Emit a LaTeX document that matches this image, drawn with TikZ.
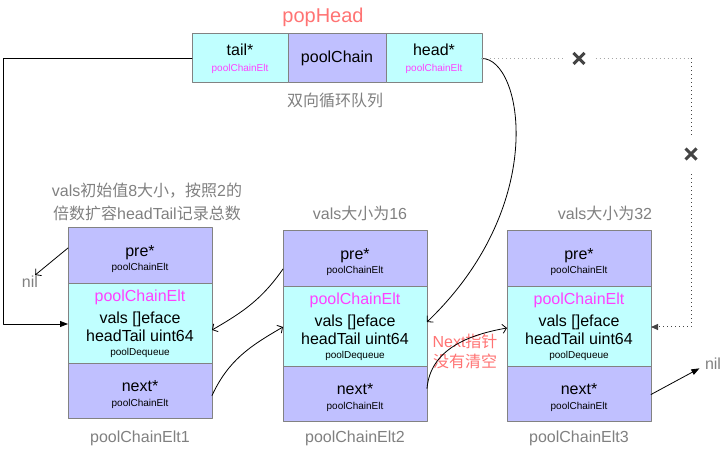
\documentclass[tikz,border=0pt]{standalone}
\usepackage{fontspec}
\setmainfont{Liberation Sans}
\newfontfamily\zhfont{Noto Sans CJK SC}
\newcommand{\zh}[1]{{\zhfont #1}}
\newcommand{\bigsz}{\fontsize{16}{18}\selectfont}
\newcommand{\smallsz}{\fontsize{10}{12}\selectfont}
\usetikzlibrary{arrows.meta,positioning,shapes.misc}
\definecolor{ptrfill}{HTML}{C0C0FF}
\definecolor{datafill}{HTML}{C0FFFF}
\definecolor{edgegray}{HTML}{828282}
\definecolor{eltpink}{HTML}{FF40FF}
\definecolor{warnred}{HTML}{FF7373}
\definecolor{notegray}{HTML}{808080}
\definecolor{markgray}{HTML}{444444}
\tikzset{
  cell/.style={draw=edgegray,line width=1pt,align=center,inner sep=0pt,outer sep=0pt,font=\bigsz},
  ptrcell/.style={cell,fill=ptrfill,minimum width=144pt,minimum height=56pt},
  datacell/.style={cell,fill=datafill,minimum width=144pt,minimum height=80pt},
  note/.style={text=notegray,font=\bigsz,align=center,inner sep=1pt},
  link/.style={line width=.8pt,-{Straight Barb[length=4pt,width=9pt]}},
  solidlink/.style={line width=.8pt,-{Triangle[length=8pt,width=6pt]}},
  dotline/.style={draw=markgray,line width=1pt,dash pattern=on 1pt off 3pt,line cap=butt},
  xmark/.style={cross out,draw=markgray,line width=3pt,line cap=butt,minimum size=11pt,inner sep=0pt,outer sep=0pt},
}

\begin{document}
\begin{tikzpicture}[x=1pt,y=1pt,line cap=round,line join=round]
\path[use as bounding box] (0,0) rectangle (728,454);
\node[cell,fill=datafill,minimum width=96pt,minimum height=49pt] (tail) at (240,395.5) {tail*\\[-2pt]{\smallsz\color{eltpink}poolChainElt}};
\node[cell,fill=ptrfill,minimum width=98pt,minimum height=49pt,right=0pt of tail] (chain) {poolChain};
\node[cell,fill=datafill,minimum width=96pt,minimum height=49pt,right=0pt of chain] (head) {head*\\[-2pt]{\smallsz\color{eltpink}poolChainElt}};
\node[text=warnred,font=\fontsize{20}{24}\selectfont] (pophead) at (323,437) {popHead};
\node[note] (queue) at (335,354) {\zh{双向循环队列}};

\node[ptrcell] (pre1) at (140,198) {\rule{0pt}{18pt}pre*\\[-4pt]{\smallsz poolChainElt}};
\node[datacell,below=0pt of pre1] (mid1) {{\color{eltpink}poolChainElt}\\[4pt]vals []eface\\headTail uint64\\[-4pt]{\smallsz poolDequeue}};
\node[ptrcell,minimum height=55pt,below=0pt of mid1] (next1) {\rule{0pt}{18pt}next*\\[-3pt]{\smallsz poolChainElt}};

\node[ptrcell] (pre2) at (355,195) {\rule{0pt}{18pt}pre*\\[-4pt]{\smallsz poolChainElt}};
\node[datacell,below=0pt of pre2] (mid2) {{\color{eltpink}poolChainElt}\\[4pt]vals []eface\\headTail uint64\\[-4pt]{\smallsz poolDequeue}};
\node[ptrcell,minimum height=55pt,below=0pt of mid2] (next2) {\rule{0pt}{18pt}next*\\[-3pt]{\smallsz poolChainElt}};

\node[ptrcell] (pre3) at (579,195) {\rule{0pt}{18pt}pre*\\[-4pt]{\smallsz poolChainElt}};
\node[datacell,below=0pt of pre3] (mid3) {{\color{eltpink}poolChainElt}\\[4pt]vals []eface\\headTail uint64\\[-4pt]{\smallsz poolDequeue}};
\node[ptrcell,minimum height=55pt,below=0pt of mid3] (next3) {\rule{0pt}{18pt}next*\\[-3pt]{\smallsz poolChainElt}};

\node[note] (name1) at (140,16) {poolChainElt1};
\node[note] (name2) at (355,16) {poolChainElt2};
\node[note] (name3) at (579,16) {poolChainElt3};
\node[note] (size1) at (147,252.5) {vals\zh{初始值}8\zh{大小，按照}2\zh{的}\\[5pt]\zh{倍数扩容}headTail\zh{记录总数}};
\node[note] (size2) at (360,241) {vals\zh{大小为}16};
\node[note] (size3) at (605,241) {vals\zh{大小为}32};
\node[note] (nil1) at (30,172) {nil};
\node[note] (nil3) at (713,90) {nil};
\node[text=warnred,font=\bigsz,align=center] (stale) at (465,103) {Next\zh{指针}\\[2pt]\zh{没有清空}};

\node[xmark] (cut1) at (579,395.5) {};
\node[xmark] (cut2) at (691,300) {};
\coordinate (back) at (3,395.5);
\coordinate (corner) at (691,395.5);

\draw[solidlink] (tail.west) -- (back) |- (mid1.west);
\draw[link] ([yshift=8pt]pre1.west) -- ([xshift=-4pt]nil1.north east);
\draw[link] ([yshift=-10pt]pre2.west) to[out=-125,in=30] ([yshift=-6pt]mid1.east);
\draw[link] ([yshift=-4pt]next1.east) to[out=65,in=-150] (mid2.west);
\draw[link] (head.east) .. controls +(40,0) and +(123,118) .. ([yshift=5pt]mid2.east);
\draw[link] ([yshift=6pt]next2.east) to[out=85,in=-170] ([yshift=-1pt]mid3.west);
\draw[solidlink,shorten >=5pt] (next3.east) -- ([yshift=-2pt]nil3.west);
\draw[dotline,draw=gray!70,shorten >=11pt] (head.east) -- (cut1);
\draw[dotline,draw=gray!70,shorten <=11pt] (cut1) -- (corner);
\draw[dotline,shorten >=13pt] (corner) -- (cut2);
\draw[dotline,shorten <=15pt,-{Triangle[length=7pt,width=6pt]}] (cut2) |- (mid3.east);
\end{tikzpicture}
\end{document}
